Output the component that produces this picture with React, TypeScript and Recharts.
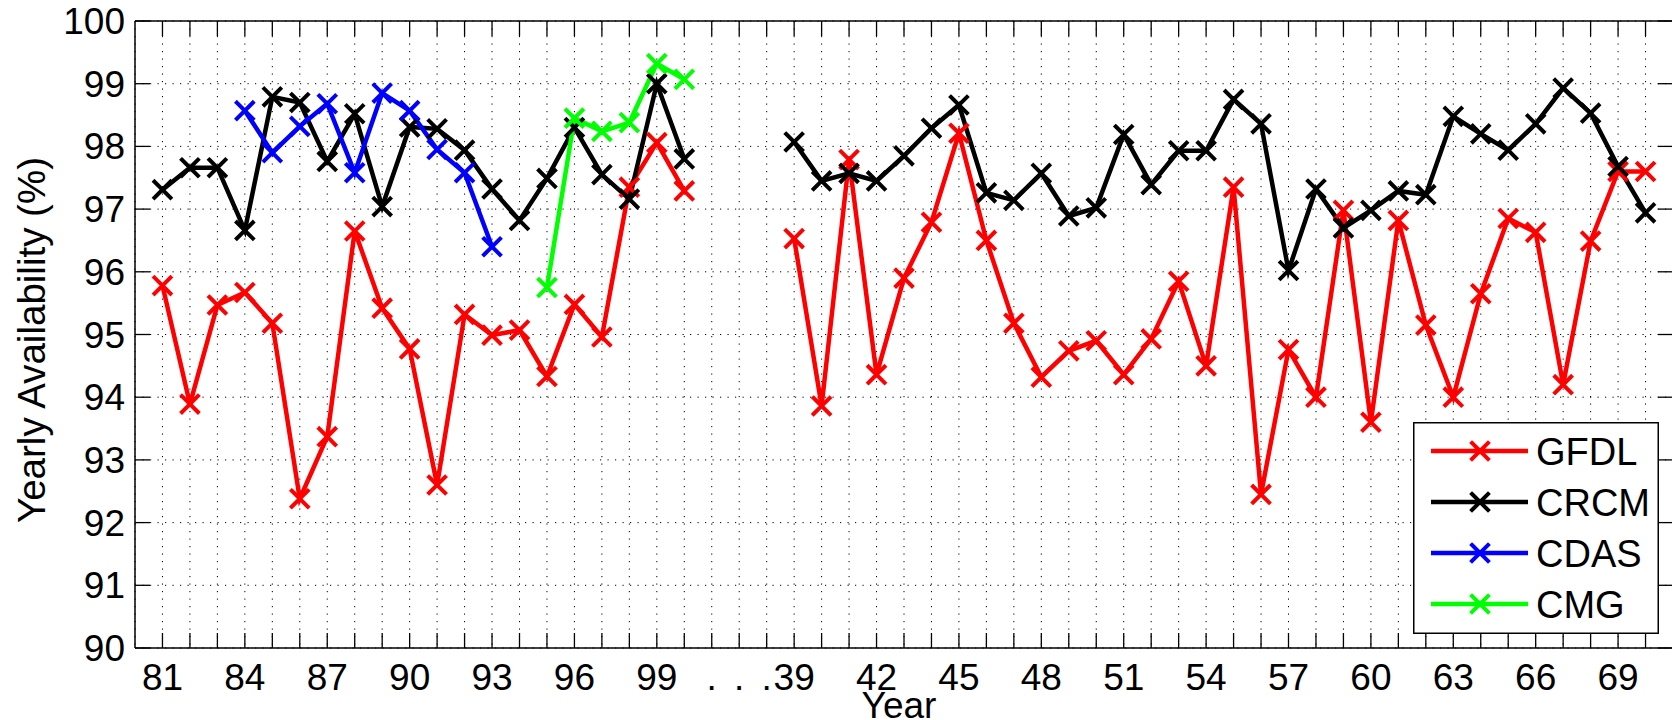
import React from 'react';
import { LineChart, Line, XAxis, YAxis, CartesianGrid, Legend } from 'recharts';

// Categories: years 1981-2000, a gap of three dotted slots, then 2039-2070
const categories = [
  '81', '82', '83', '84', '85', '86', '87', '88', '89', '90',
  '91', '92', '93', '94', '95', '96', '97', '98', '99', '00',
  '.', '.', '.',
  '39', '40', '41', '42', '43', '44', '45', '46', '47', '48', '49',
  '50', '51', '52', '53', '54', '55', '56', '57', '58', '59', '60',
  '61', '62', '63', '64', '65', '66', '67', '68', '69', '70',
];

const tickLabels = [
  '81', '84', '87', '90', '93', '96', '99', '.',
  '39', '42', '45', '48', '51', '54', '57', '60', '63', '66', '69',
];

const gfdl = [
  95.78, 93.89, 95.47, 95.67, 95.18, 92.38, 93.37, 96.65, 95.42, 94.77,
  92.6, 95.32, 94.99, 95.07, 94.33, 95.48, 94.96, 97.35, 98.06, 97.29,
  null, null, null,
  96.53, 93.86, 97.79, 94.36, 95.9, 96.79, 98.21, 96.5, 95.18, 94.32, 94.74,
  94.9, 94.36, 94.93, 95.85, 94.5, 97.35, 92.45, 94.76, 94.0, 96.98, 93.6,
  96.82, 95.15, 94.0, 95.65, 96.85, 96.63, 94.2, 96.49, 97.6, 97.6,
];

const crcm = [
  97.31, 97.66, 97.66, 96.66, 98.79, 98.7, 97.76, 98.52, 97.04, 98.31,
  98.28, 97.94, 97.32, 96.82, 97.49, 98.3, 97.55, 97.16, 99.0, 97.8,
  null, null, null,
  98.07, 97.45, 97.57, 97.45, 97.85, 98.29, 98.66, 97.26, 97.14, 97.57, 96.89,
  97.02, 98.19, 97.39, 97.93, 97.93, 98.75, 98.36, 96.02, 97.32, 96.7, 96.98,
  97.29, 97.23, 98.48, 98.2, 97.94, 98.36, 98.93, 98.53, 97.68, 96.94,
];

const cdas = [
  null, null, null, 98.57, 97.9, 98.32, 98.68, 97.58, 98.85, 98.57,
  97.95, 97.58, 96.4, null, null, null, null, null, null, null,
  null, null, null,
  null, null, null, null, null, null, null, null, null, null, null,
  null, null, null, null, null, null, null, null, null, null, null,
  null, null, null, null, null, null, null, null, null, null,
];

const cmg = [
  null, null, null, null, null, null, null, null, null, null,
  null, null, null, null, 95.75, 98.45, 98.24, 98.38, 99.32, 99.07,
  null, null, null,
  null, null, null, null, null, null, null, null, null, null, null,
  null, null, null, null, null, null, null, null, null, null, null,
  null, null, null, null, null, null, null, null, null, null,
];

const yTicks = [90, 91, 92, 93, 94, 95, 96, 97, 98, 99, 100];

const seriesNames = ['GFDL', 'CRCM', 'CDAS', 'CMG'];
const seriesColors = ['#ff0000', '#000000', '#0000ff', '#00ff00'];

const data = categories.map((c, i) => ({
  idx: i,
  GFDL: gfdl[i],
  CRCM: crcm[i],
  CDAS: cdas[i],
  CMG: cmg[i],
}));
const xTicks = categories.map((_, i) => i);

const FONT = '"Liberation Sans", Arial, Helvetica, sans-serif';
const FS = 37;
const TICK = 15;
const AX = '#000';

const BottomTick = (props: any) => {
  const { x, y, payload } = props;
  const lab = categories[payload.value];
  const show = tickLabels.includes(lab);
  return (
    <g>
      <line x1={x} y1={y} x2={x} y2={y - TICK} stroke={AX} strokeWidth={1.3} />
      {show && (
        <text x={x} y={y + 42} textAnchor="middle" fontSize={FS} fontFamily={FONT} fill="#000">
          {lab}
        </text>
      )}
    </g>
  );
};

const TopTick = (props: any) => {
  const { x, y } = props;
  return <line x1={x} y1={y} x2={x} y2={y + TICK} stroke={AX} strokeWidth={1.3} />;
};

const LeftTick = (props: any) => {
  const { x, y, payload } = props;
  return (
    <g>
      <line x1={x} y1={y} x2={x + TICK} y2={y} stroke={AX} strokeWidth={1.3} />
      <text x={x - 10} y={y + 13} textAnchor="end" fontSize={FS} fontFamily={FONT} fill="#000">
        {payload.value}
      </text>
    </g>
  );
};

const RightTick = (props: any) => {
  const { x, y } = props;
  return <line x1={x} y1={y} x2={x - TICK} y2={y} stroke={AX} strokeWidth={1.3} />;
};

const XTitle = () => (
  <text x={899} y={718} textAnchor="middle" fontSize={FS} fontFamily={FONT} fill="#000">
    Year
  </text>
);

const YTitle = () => (
  <text
    x={45}
    y={340}
    transform="rotate(-90 45 340)"
    textAnchor="middle"
    fontSize={38.5}
    fontFamily={FONT}
    fill="#000"
  >
    Yearly Availability (%)
  </text>
);

const Cross = ({ cx, cy, color, r = 8, w = 4 }: any) => (
  <g>
    <line x1={cx - r} y1={cy - r} x2={cx + r} y2={cy + r} stroke={color} strokeWidth={w} strokeLinecap="square" />
    <line x1={cx - r} y1={cy + r} x2={cx + r} y2={cy - r} stroke={color} strokeWidth={w} strokeLinecap="square" />
  </g>
);

const makeDot = (color: string) => (p: any) => {
  const { cx, cy, index, value } = p;
  if (cy == null || cx == null || value == null || Number.isNaN(cy)) return <g key={`d-${color}-${index}`} />;
  return (
    <g key={`d-${color}-${index}`}>
      <Cross cx={cx} cy={cy} color={color} />
    </g>
  );
};

const LegendBox = () => (
  <svg width={246} height={212} style={{ display: 'block' }}>
    <rect x={0.75} y={0.75} width={244.5} height={210.5} fill="#fff" stroke="#000" strokeWidth={1.5} />
    {seriesNames.map((name, i) => {
      const cy = 29 + i * 51;
      return (
        <g key={name}>
          <line x1={18} x2={115} y1={cy} y2={cy} stroke={seriesColors[i]} strokeWidth={4.5} />
          <Cross cx={67} cy={cy} color={seriesColors[i]} />
          <text x={123} y={cy + 13.5} fontSize={38} fontFamily={FONT} fill="#000">
            {name}
          </text>
        </g>
      );
    })}
  </svg>
);

export default function App() {
  return (
    <div
      style={{
        position: 'fixed',
        left: 0,
        top: 0,
        width: 1672,
        height: 720,
        overflow: 'hidden',
        background: '#fff',
      }}
    >
      <LineChart width={1690} height={720} data={data} margin={{ top: 0, right: 0, bottom: 0, left: 0 }}>
        <XAxis
          xAxisId="b"
          dataKey="idx"
          type="number"
          domain={[-1, 55]}
          ticks={xTicks}
          interval={0}
          orientation="bottom"
          height={72}
          tickSize={0}
          tickMargin={0}
          tickLine={false}
          tick={<BottomTick />}
          axisLine={{ stroke: AX, strokeWidth: 1.5 }}
          allowDataOverflow
          label={<XTitle />}
        />
        <XAxis
          xAxisId="t"
          dataKey="idx"
          type="number"
          domain={[-1, 55]}
          ticks={xTicks}
          interval={0}
          orientation="top"
          height={21}
          tickSize={0}
          tickMargin={0}
          tickLine={false}
          tick={<TopTick />}
          axisLine={{ stroke: AX, strokeWidth: 1.5 }}
          allowDataOverflow
        />
        <YAxis
          yAxisId="l"
          domain={[90, 100]}
          ticks={yTicks}
          interval={0}
          width={135}
          tickSize={0}
          tickMargin={0}
          tickLine={false}
          tick={<LeftTick />}
          axisLine={{ stroke: AX, strokeWidth: 1.5 }}
          allowDataOverflow
          label={<YTitle />}
        />
        <YAxis
          yAxisId="r"
          orientation="right"
          domain={[90, 100]}
          ticks={yTicks}
          interval={0}
          width={17}
          tickSize={0}
          tickMargin={0}
          tickLine={false}
          tick={<RightTick />}
          axisLine={{ stroke: AX, strokeWidth: 1.5 }}
          allowDataOverflow
        />
        <CartesianGrid xAxisId="b" yAxisId="l" stroke="#000" strokeWidth={1} strokeDasharray="1.2 6.3" />
        {seriesNames.map((name, i) => (
          <Line
            key={name}
            xAxisId="b"
            yAxisId="l"
            type="linear"
            dataKey={name}
            stroke={seriesColors[i]}
            strokeWidth={4.5}
            dot={makeDot(seriesColors[i])}
            activeDot={false}
            connectNulls={false}
            isAnimationActive={false}
          />
        ))}
        <Legend
          layout="horizontal"
          verticalAlign="middle"
          align="center"
          content={<LegendBox />}
          wrapperStyle={{ position: 'absolute', left: 1413, top: 422, width: 246, height: 212 }}
        />
      </LineChart>
    </div>
  );
}
